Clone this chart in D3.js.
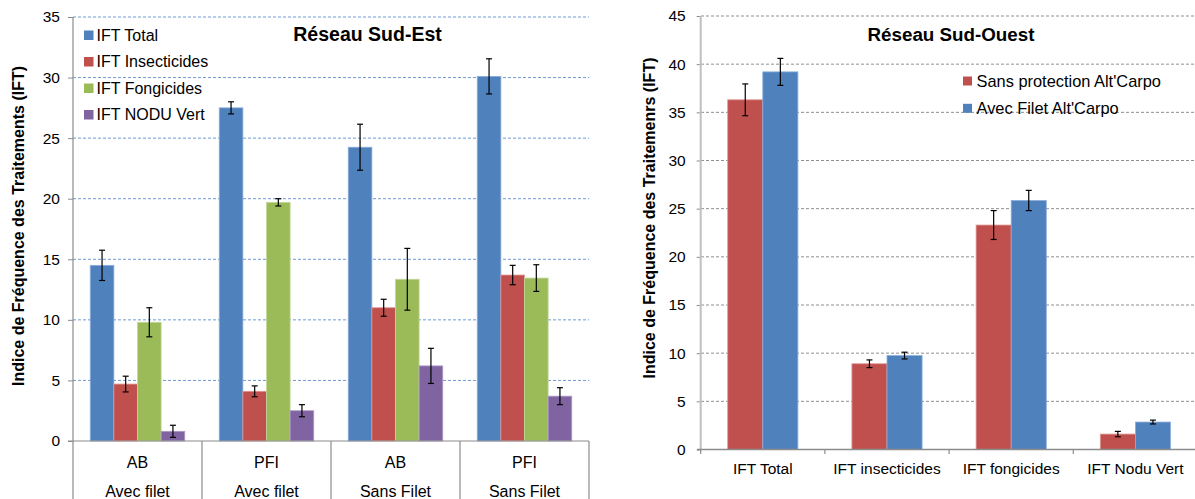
<!DOCTYPE html>
<html><head><meta charset="utf-8">
<script src="https://cdn.jsdelivr.net/npm/d3@7"></script>
<style>
body{margin:0;background:#fff}
svg{display:block}
text{font-family:"Liberation Sans",Arial,Helvetica,sans-serif;fill:#000}
</style>
</head><body>
<svg id="c" width="1195" height="499"></svg>
<script>
// ---------- DATA : Réseau Sud-Est ----------
const leftTopLabels = ["AB","PFI","AB","PFI"];
const leftBottomLabels = ["Avec filet","Avec filet","Sans Filet","Sans Filet"];
const leftSeries = ["IFT Total","IFT Insecticides","IFT Fongicides","IFT NODU Vert"];
const leftTotal = [14.5, 27.5, 24.25, 30.1];
const leftInsect = [4.7, 4.1, 11.0, 13.7];
const leftFongi = [9.8, 19.7, 13.35, 13.45];
const leftNodu = [0.8, 2.5, 6.2, 3.7];
const leftTotalErr = [1.25, 0.5, 1.9, 1.45];
const leftInsectErr = [0.65, 0.45, 0.7, 0.8];
const leftFongiErr = [1.2, 0.3, 2.55, 1.1];
const leftNoduErr = [0.5, 0.5, 1.45, 0.7];
const leftTicks = [0,5,10,15,20,25,30,35];

// ---------- DATA : Réseau Sud-Ouest ----------
const rightCategories = ["IFT Total","IFT insecticides","IFT fongicides","IFT Nodu Vert"];
const rightSeries = ["Sans protection Alt'Carpo","Avec Filet Alt'Carpo"];
const rightSans = [36.3, 8.9, 23.3, 1.6];
const rightAvec = [39.2, 9.75, 25.85, 2.85];
const rightSansErr = [1.65, 0.4, 1.5, 0.28];
const rightAvecErr = [1.4, 0.35, 1.05, 0.2];
const rightTicks = [0,5,10,15,20,25,30,35,40,45];

const svg = d3.select("#c");
const FONT = '"Liberation Sans",Arial,Helvetica,sans-serif';

// =============== LEFT CHART ===============
(function(){
  const colors = ["#4F81BD","#C0504D","#9BBB59","#8064A2"];
  const strokes = ["#8BAEDB","#DE9593","#C3D89A","#AF9BC6"];
  const vals = [leftTotal,leftInsect,leftFongi,leftNodu];
  const errs = [leftTotalErr,leftInsectErr,leftFongiErr,leftNoduErr];
  const idx = d3.range(leftTopLabels.length);
  const x = d3.scaleBand().domain(idx).range([73,589]).paddingInner(0).paddingOuter(0);
  const xs = d3.scaleBand().domain(d3.range(leftSeries.length)).range([0,x.bandwidth()]).paddingInner(0).paddingOuter(0.73);
  const y = d3.scaleLinear().domain([0,35]).range([441,17]);
  const g = svg.append("g");

  g.selectAll("line.grid").data(leftTicks.filter(t=>t>0)).join("line")
    .attr("x1",73).attr("x2",589).attr("y1",d=>y(d)).attr("y2",d=>y(d))
    .attr("stroke","#6F9AD3").attr("stroke-width",1).attr("stroke-dasharray","3,2");

  const ya = d3.axisLeft(y).tickValues(leftTicks).tickSize(5).tickPadding(8);
  const yg = g.append("g").attr("transform","translate(73,0)").call(ya);
  yg.select(".domain").remove();
  yg.selectAll(".tick line").attr("stroke","#8C8C8C");
  yg.selectAll(".tick text").attr("font-size","15.5px").attr("font-family",FONT).attr("fill","#000");
  g.append("line").attr("x1",73).attr("x2",73).attr("y1",17).attr("y2",499).attr("stroke","#8C8C8C").attr("stroke-width",1.2);

  vals.forEach((arr,s)=>{
    g.selectAll(null).data(idx).join("rect")
      .attr("x",i=>x(i)+xs(s)).attr("width",xs.bandwidth())
      .attr("y",i=>y(arr[i])).attr("height",i=>y(0)-y(arr[i]))
      .attr("fill",colors[s]).attr("stroke",strokes[s]).attr("stroke-width",0.8);
  });
  vals.forEach((arr,s)=>{
    const e = errs[s];
    idx.forEach(i=>{
      const cx = x(i)+xs(s)+xs.bandwidth()/2;
      const t = y(arr[i]+e[i]), b = y(arr[i]-e[i]);
      g.append("line").attr("x1",cx).attr("x2",cx).attr("y1",t).attr("y2",b).attr("stroke","#000").attr("stroke-width",1.2);
      [t,b].forEach(yy=>g.append("line").attr("x1",cx-3).attr("x2",cx+3).attr("y1",yy).attr("y2",yy).attr("stroke","#000").attr("stroke-width",1.2));
    });
  });

  g.append("line").attr("x1",68).attr("x2",589).attr("y1",441).attr("y2",441).attr("stroke","#8C8C8C").attr("stroke-width",1.2);
  idx.forEach(i=>{
    g.append("line").attr("x1",x(i)+x.bandwidth()).attr("x2",x(i)+x.bandwidth()).attr("y1",441).attr("y2",499).attr("stroke","#8C8C8C").attr("stroke-width",1.2);
  });
  g.selectAll("text.ct").data(idx).join("text").attr("class","ct")
    .attr("x",i=>x(i)+x.bandwidth()/2).attr("y",468).attr("text-anchor","middle").attr("font-size","16px").text(i=>leftTopLabels[i]);
  g.selectAll("text.cb").data(idx).join("text").attr("class","cb")
    .attr("x",i=>x(i)+x.bandwidth()/2).attr("y",496.5).attr("text-anchor","middle").attr("font-size","16px").text(i=>leftBottomLabels[i]);

  g.append("text").attr("x",367.5).attr("y",41).attr("text-anchor","middle").attr("font-size","19.5px").attr("font-weight","bold").text("Réseau Sud-Est");

  leftSeries.forEach((s,k)=>{
    const cy = 35 + k*26.5;
    g.append("rect").attr("x",84).attr("y",cy-4.5).attr("width",9.5).attr("height",9.5).attr("fill",colors[k]);
    g.append("text").attr("x",96.5).attr("y",cy+5.5).attr("font-size","16px").text(s);
  });

  g.append("text").attr("transform","translate(24,226) rotate(-90)").attr("text-anchor","middle")
    .attr("font-size","16px").attr("font-weight","bold").text("Indice de Fréquence des Traitements (IFT)");
})();

// =============== RIGHT CHART ===============
(function(){
  const colors = ["#C0504D","#4F81BD"];
  const strokes = ["#DE9593","#8BAEDB"];
  const vals = [rightSans,rightAvec];
  const errs = [rightSansErr,rightAvecErr];
  const x = d3.scaleBand().domain(rightCategories).range([700.7,1197.5]).paddingInner(0).paddingOuter(0);
  const xs = d3.scaleBand().domain(d3.range(rightSeries.length)).range([0,x.bandwidth()]).paddingInner(0).paddingOuter(0.77);
  const y = d3.scaleLinear().domain([0,45]).range([449.5,16]);
  const g = svg.append("g");

  g.selectAll("line.grid").data(rightTicks.filter(t=>t>0)).join("line")
    .attr("x1",701).attr("x2",1195).attr("y1",d=>y(d)).attr("y2",d=>y(d))
    .attr("stroke","#8F8F8F").attr("stroke-width",1).attr("stroke-dasharray","3,2");

  const ya = d3.axisLeft(y).tickValues(rightTicks).tickSize(4).tickPadding(11);
  const yg = g.append("g").attr("transform","translate(700.7,0)").call(ya);
  yg.select(".domain").remove();
  yg.selectAll(".tick line").attr("stroke","#8C8C8C");
  yg.selectAll(".tick text").attr("font-size","15.5px").attr("font-family",FONT).attr("fill","#000");
  g.append("line").attr("x1",700.7).attr("x2",700.7).attr("y1",16).attr("y2",450).attr("stroke","#BFBFBF").attr("stroke-width",2);

  vals.forEach((arr,s)=>{
    g.selectAll(null).data(rightCategories).join("rect")
      .attr("x",c=>x(c)+xs(s)).attr("width",xs.bandwidth())
      .attr("y",(c,i)=>y(arr[i])).attr("height",(c,i)=>y(0)-y(arr[i]))
      .attr("fill",colors[s]).attr("stroke",strokes[s]).attr("stroke-width",0.8);
  });
  vals.forEach((arr,s)=>{
    const e = errs[s];
    rightCategories.forEach((c,i)=>{
      const cx = x(c)+xs(s)+xs.bandwidth()/2;
      const t = y(arr[i]+e[i]), b = y(arr[i]-e[i]);
      g.append("line").attr("x1",cx).attr("x2",cx).attr("y1",t).attr("y2",b).attr("stroke","#000").attr("stroke-width",1.2);
      [t,b].forEach(yy=>g.append("line").attr("x1",cx-3).attr("x2",cx+3).attr("y1",yy).attr("y2",yy).attr("stroke","#000").attr("stroke-width",1.2));
    });
  });

  g.append("line").attr("x1",697).attr("x2",1195).attr("y1",449.5).attr("y2",449.5).attr("stroke","#8C8C8C").attr("stroke-width",1.5);
  rightCategories.forEach(c=>{
    g.append("line").attr("x1",x(c)).attr("x2",x(c)).attr("y1",449.5).attr("y2",454).attr("stroke","#8C8C8C").attr("stroke-width",1.2);
  });
  g.selectAll("text.cat").data(rightCategories).join("text").attr("class","cat")
    .attr("x",c=>x(c)+x.bandwidth()/2).attr("y",474).attr("text-anchor","middle").attr("font-size","15.5px").text(c=>c);

  g.append("text").attr("x",951).attr("y",41).attr("text-anchor","middle").attr("font-size","18.8px").attr("font-weight","bold").text("Réseau Sud-Ouest");

  rightSeries.forEach((s,k)=>{
    const cy = 81 + k*27.3;
    g.append("rect").attr("x",963).attr("y",cy-4.5).attr("width",9).attr("height",9).attr("fill",colors[k]);
    g.append("text").attr("x",976.5).attr("y",cy+5.5).attr("font-size","16.4px").text(s);
  });

  g.append("text").attr("transform","translate(655,218) rotate(-90)").attr("text-anchor","middle")
    .attr("font-size","16px").attr("font-weight","bold").text("Indice de Fréquence des Traitemenrs (IFT)");
})();
</script>
</body></html>
